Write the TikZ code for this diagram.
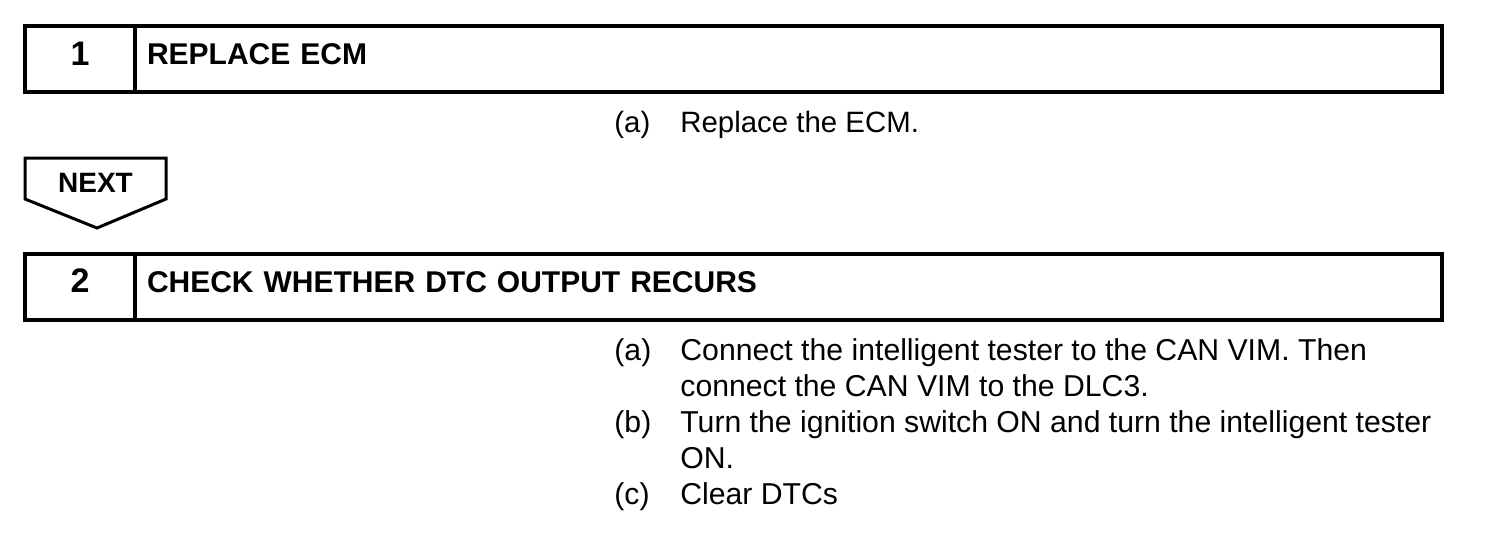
\documentclass[tikz,border=0pt]{standalone}
\usepackage{fontspec}
\setmainfont{Liberation Sans}
\usetikzlibrary{positioning}

\begin{document}
\begin{tikzpicture}[x=0.5pt,y=-0.5pt,
    stepnum/.style={draw,line width=2pt,minimum width=55pt,minimum height=33pt,
      inner sep=0pt,outer sep=0pt,font=\fontsize{17}{20}\selectfont\bfseries,
      text height=12.2pt,text depth=6pt},
    steptitle/.style={draw,line width=2pt,minimum height=33pt,inner xsep=6pt,
      inner ysep=0pt,outer sep=0pt,font=\fontsize{15}{18}\selectfont\bfseries,
      text width=641.5pt,align=left,text height=10.7pt,text depth=5pt},
    nextarrow/.style={draw,line width=1.5pt,line join=miter},
    item/.style={font=\fontsize{14.7}{18}\selectfont,inner sep=0pt,anchor=base west},
    itemb/.style={item,font=\fontsize{15.1}{18}\selectfont}]
  \useasboundingbox (0,0) rectangle (1504,548);

  % step 1
  \node[stepnum] (n1) at (80,59) {1};
  \node[steptitle,right=0pt of n1] (t1) {REPLACE ECM};
  \node[item] (a1) at (614,132) {(a)};
  \node[item] (a1t) at (680,132) {Replace the ECM.};

  % next
  \draw[nextarrow] (25,158) -- (166,158) -- (166,199) -- (97,228) -- (25,199) -- cycle;
  \node[font=\fontsize{14}{17}\selectfont\bfseries,inner sep=0pt] (next) at (95.5,183) {NEXT};

  % step 2
  \node[stepnum] (n2) at (80,286.5) {2};
  \node[steptitle,right=0pt of n2] (t2) {CHECK WHETHER DTC OUTPUT RECURS};
  \node[itemb] (a2) at (614,360) {(a)};
  \node[itemb] (a2t) at (680,360) {Connect the intelligent tester to the CAN VIM. Then};
  \node[itemb] (a2u) at (680,396) {connect the CAN VIM to the DLC3.};
  \node[itemb] (b2) at (614,432) {(b)};
  \node[itemb] (b2t) at (680,432) {Turn the ignition switch ON and turn the intelligent tester};
  \node[itemb] (b2u) at (680,468) {ON.};
  \node[itemb] (c2) at (614,504) {(c)};
  \node[itemb] (c2t) at (680,504) {Clear DTCs};
\end{tikzpicture}
\end{document}
